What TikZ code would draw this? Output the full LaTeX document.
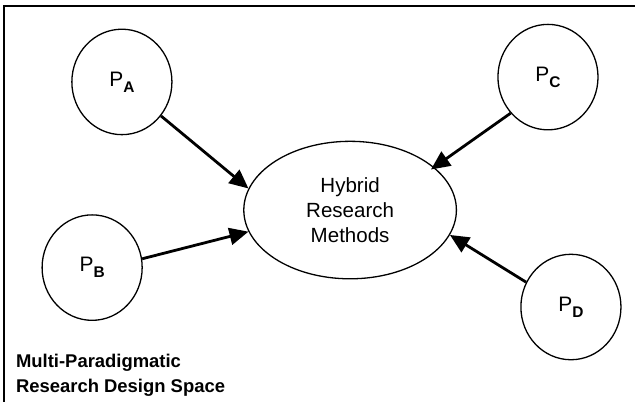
\documentclass[tikz,border=0pt]{standalone}
\usepackage{fontspec}
\setmainfont{Liberation Sans}
\usepackage{tikz}
\usetikzlibrary{shapes, arrows.meta, positioning}
\newcommand{\plabel}[1]{P\raisebox{-6bp}{\fontsize{15.5}{15.5}\selectfont\bfseries #1}}
\tikzset{
  paraV/.style={ellipse, draw=black, line width=1.3pt, fill=white,
                inner sep=0pt, minimum width=3.53cm, minimum height=3.72cm,
                font=\fontsize{21}{25}\selectfont},
  hybridV/.style={ellipse, draw=black, line width=1.3pt, fill=white,
                  inner sep=0pt, minimum width=7.5cm, minimum height=4.85cm,
                  align=center, font=\fontsize{20.6}{25}\selectfont},
  feed/.style={draw=black, line width=2.8pt,
               -{Triangle[length=19bp, width=17bp]}},
  frameL/.style={draw=black, line width=1.6pt},
}

\begin{document}
\begin{tikzpicture}
    \useasboundingbox (0,0) rectangle (22.40,-14.18);
    \draw[frameL] (0.14,-14.18) -- (0.14,-0.21) -- (22.40,-0.21);
    \node[hybridV] (hrm) at (12.35,-7.41) {Hybrid\\Research\\Methods};
    \foreach \n/\x/\y/\l in {pa/4.30/-2.89/A, pb/3.25/-9.44/B,
                             pc/19.33/-2.72/C, pd/20.14/-10.83/D}{
      \node[paraV] (\n) at (\x,\y) {\plabel{\l}};
    }
    \draw[feed] (pa.-41) -- (hrm.168);
    \draw[feed] (pb.10) -- (hrm.192);
    \draw[feed, shorten >=-4pt] (pc.224) -- (hrm.27);
    \draw[feed] (pd.151) -- (hrm.-14);
    \node[anchor=base west, inner sep=0pt, align=left,
          font=\fontsize{18.5}{26}\selectfont\bfseries] (space) at (0.56,-13.86)
          {Multi-Paradigmatic\\Research Design Space};
  \end{tikzpicture}
\end{document}
